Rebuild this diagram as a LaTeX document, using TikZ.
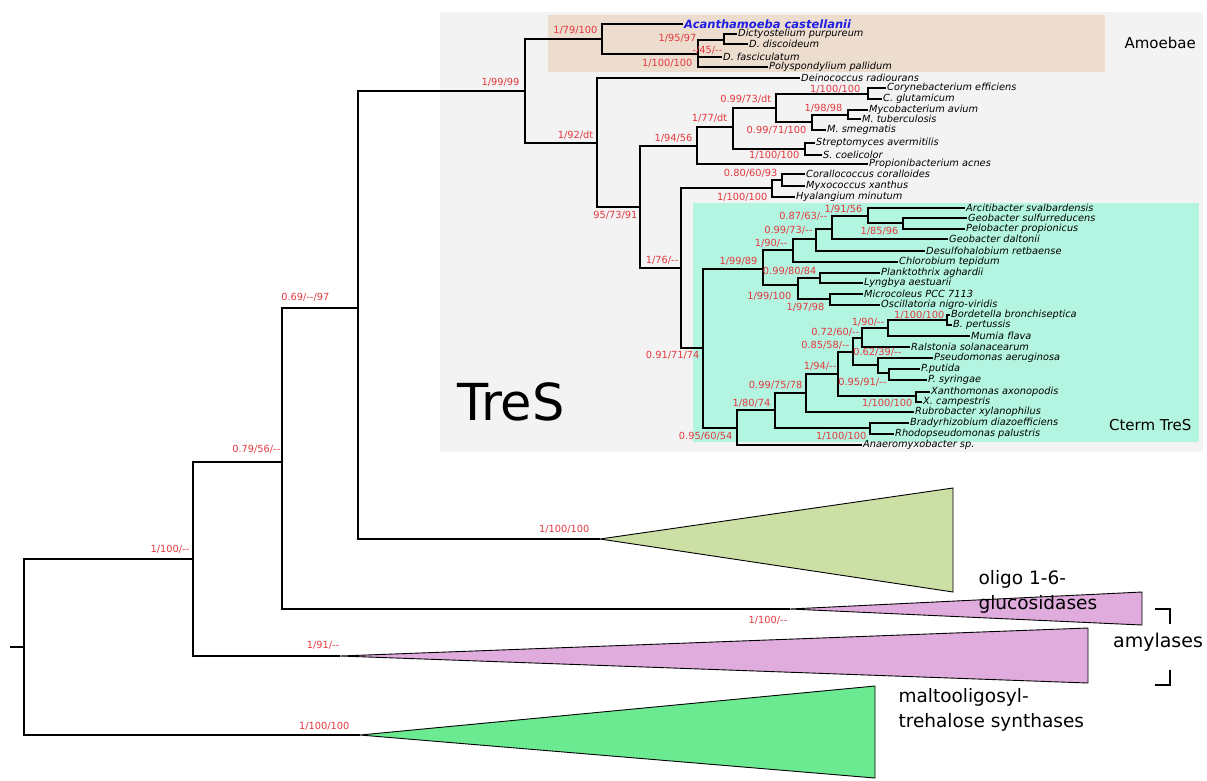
\documentclass[tikz,border=0pt]{standalone}
\usepackage{fontspec}
\setmainfont{DejaVu Sans}
\newfontfamily\bsfont{DejaVu Sans}
\definecolor{bsred}{RGB}{228,56,62}
\definecolor{acablue}{RGB}{30,30,230}
\definecolor{boxgrey}{RGB}{243,243,243}
\definecolor{boxtan}{RGB}{237,221,206}
\definecolor{boxmint}{RGB}{179,245,224}
\definecolor{oligo}{RGB}{204,224,166}
\definecolor{amyl}{RGB}{224,172,222}
\definecolor{malto}{RGB}{108,234,146}

\begin{document}
\begin{tikzpicture}[x=1pt, y=-1pt,
  leaf/.style={anchor=west, inner sep=1pt, font=\fontsize{9.8}{10}\selectfont\itshape},
  bs/.style={anchor=east, inner sep=0.5pt, text=bsred, font=\fontsize{9.8}{10}\selectfont\bsfont},
  tree/.style={line width=1.7pt},
  clade/.style={draw, line width=0.9pt},
  grp/.style={anchor=west, align=left, font=\fontsize{18.5}{25}\selectfont}]
\useasboundingbox (0,0) rectangle (1207,780);

% shaded groups
\fill[boxgrey] (440,12) rectangle (1203,452);
\fill[boxtan] (548,15) rectangle (1105,72);
\fill[boxmint] (693,203) rectangle (1199,442);

% internal nodes
\foreach \n/\x/\y in {r0/10/647, r/24/647, B/193/559, C/282/462, D/358/308,
    tg/360/735, tpl/340/656, tpu/790/609, tol/600/539,
    E/525/91, F/602/39, G/698/54, H/724/40, I/597/143, J/640/207,
    K/697/146, L/733/127, M/776/108, O/868/94, P/812/122, Q/848/115,
    N/805/149, T/681/268, X/772/188, Y/782/180, U/703/348,
    V/763/269, VA/793/250, VB/816/239, AC/832/229, AA/868/216, AB/903/223,
    VC/798/285, VD/820/278, VE/830/299,
    W/737/428, WA/775/410, WC/806/393, WD/838/374, WE/853/352, WH/862/338,
    WF/888/328, BB/947/320, WG/878/365, PB/889/373, XA/916/396, WB/870/428}
  \coordinate (\n) at (\x,\y);

% leaves
\node[leaf, font=\fontsize{11.5}{13}\selectfont\bfseries\itshape, text=acablue] (acas) at (683,24) {Acanthamoeba castellanii};
\foreach \n/\x/\y/\t in {dpur/737/34/Dictyostelium purpureum, ddis/748/44/D. discoideum,
    dfas/722/57/D. fasciculatum, ppal/768/67/Polyspondylium pallidum,
    drad/800/78/Deinococcus radiourans, ceff/886/88/Corynebacterium efficiens,
    cglu/882/99/C. glutamicum, mavi/868/110/Mycobacterium avium,
    mtub/861/119/M. tuberculosis, msme/826/130/M. smegmatis,
    save/815/143/Streptomyces avermitilis, scoe/822/155/S. coelicolor,
    pacn/868/164/Propionibacterium acnes, ccor/805/174/Corallococcus coralloides,
    mxan/805/186/Myxococcus xanthus, hmin/795/197/Hyalangium minutum,
    asva/965/208/Arcitibacter svalbardensis, gsul/967/218/Geobacter sulfurreducens,
    ppro/965/229/Pelobacter propionicus, gdal/948/239/Geobacter daltonii,
    dret/925/251/Desulfohalobium retbaense, ctep/898/262/Chlorobium tepidum,
    pagh/880/273/Planktothrix aghardii, laes/863/283/Lyngbya aestuarii,
    mpcc/863/294/Microcoleus PCC 7113, onig/880/305/Oscillatoria nigro-viridis,
    bbro/950/315/Bordetella bronchiseptica, bper/952/325/B. pertussis,
    mfla/970/336/Mumia flava, rsol/910/347/Ralstonia solanacearum,
    paer/933/358/Pseudomonas aeruginosa, pput/920/369/P.putida,
    psyr/927/380/P. syringae, xaxo/930/392/Xanthomonas axonopodis,
    xcam/922/402/X. campestris, rxyl/914/412/Rubrobacter xylanophilus,
    bdia/909/423/Bradyrhizobium diazoefficiens, rpal/894/434/Rhodopseudomonas palustris,
    anae/862/445/Anaeromyxobacter sp.}
  \node[leaf] (\n) at (\x,\y) {\t};

% collapsed clades
\draw[clade, fill=oligo] (tol) -- (953,488) -- (953,592) -- cycle;
\draw[clade, fill=amyl] (tpu) -- (1142,592) -- (1142,625) -- cycle;
\draw[clade, fill=amyl] (tpl) -- (1088,628) -- (1088,683) -- cycle;
\draw[clade, fill=malto] (tg) -- (875,686) -- (875,778) -- cycle;

% branches
\draw[line width=1.4pt] (r0) -- (r);
\foreach \p/\c in {r/B, r/tg, B/C, B/tpl, C/D, C/tpu, D/E, D/tol}
  \draw[line width=1.4pt] (\p) |- (\c);
\foreach \p/\c in {E/F, E/I, F/acas, F/G, G/H, G/dfas, G/ppal, H/dpur, H/ddis,
    I/drad, I/J, J/K, J/T, K/L, K/pacn, L/M, L/N, M/O, M/P, O/ceff, O/cglu,
    P/Q, P/msme, Q/mavi, Q/mtub, N/save, N/scoe, T/X, T/U, X/Y, X/hmin,
    Y/ccor, Y/mxan, U/V, U/W, V/VA, V/VC, VA/VB, VA/ctep, VB/AC, VB/dret,
    AC/AA, AC/gdal, AA/asva, AA/AB, AB/gsul, AB/ppro, VC/VD, VC/VE,
    VD/pagh, VD/laes, VE/mpcc, VE/onig, W/WA, W/anae, WA/WC, WA/WB,
    WC/WD, WC/rxyl, WD/WE, WD/XA, WE/WH, WE/WG, WH/WF, WH/rsol,
    WF/BB, WF/mfla, BB/bbro, BB/bper, WG/paer, WG/PB, PB/pput, PB/psyr,
    XA/xaxo, XA/xcam, WB/bdia, WB/rpal}
  \draw[tree] (\p) |- (\c);

% support values
\foreach \x/\y/\t [count=\i] in {598/30/{1/79/100}, 697/38/{1/95/97}, 723/50/{-/45/--},
    693/63/{1/100/100}, 520/82/{1/99/99}, 594/135/{1/92/dt}, 861/89/{1/100/100},
    772/99/{0.99/73/dt}, 843/108/{1/98/98}, 728/118/{1/77/dt}, 807/130/{0.99/71/100},
    693/138/{1/94/56}, 800/155/{1/100/100}, 778/173/{0.80/60/93}, 768/197/{1/100/100},
    638/215/{95/73/91}, 863/209/{1/91/56}, 828/216/{0.87/63/--}, 813/230/{0.99/73/--},
    899/231/{1/85/96}, 788/243/{1/90/--}, 679/260/{1/76/--}, 758/261/{1/99/89},
    817/271/{0.99/80/84}, 792/296/{1/99/100}, 825/307/{1/97/98}, 945/315/{1/100/100},
    885/322/{1/90/--}, 860/332/{0.72/60/--}, 850/345/{0.85/58/--}, 902/352/{0.62/39/--},
    700/355/{0.91/71/74}, 837/366/{1/94/--}, 887/382/{0.95/91/--}, 803/385/{0.99/75/78},
    913/403/{1/100/100}, 771/403/{1/80/74}, 867/436/{1/100/100}, 733/436/{0.95/60/54},
    330/297/{0.69/--/97}, 281/449/{0.79/56/--}, 190/549/{1/100/--}, 590/529/{1/100/100},
    788/620/{1/100/--}, 340/645/{1/91/--}, 350/726/{1/100/100}}
  \node[bs] (bs\i) at (\x,\y) {\t};

% group names
\node[font=\fontsize{51}{54}\selectfont] (tres) at (511,402) {TreS};
\node[anchor=west, font=\fontsize{15}{18}\selectfont] (amoebae) at (1121,43) {Amoebae};
\node[anchor=east, font=\fontsize{15}{18}\selectfont] (cterm) at (1195,425) {Cterm TreS};
\node[grp] (oligoname) at (975,592) {oligo 1-6-\\glucosidases};
\node[grp] (maltoname) at (895,710) {maltooligosyl-\\trehalose synthases};
\node[font=\fontsize{19}{20}\selectfont] (amylname) at (1158,642) {amylases};
\draw[line width=1.2pt] (1155,609) -| (1170,624);
\draw[line width=1.2pt] (1155,685) -| (1170,670);
\end{tikzpicture}
\end{document}
